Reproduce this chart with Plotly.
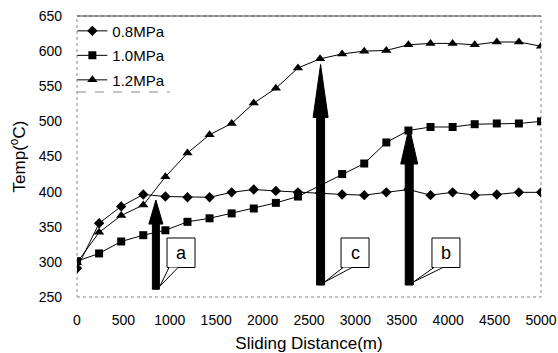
import plotly.graph_objects as go

# ---- data ----
distance = [i * 5000 / 21 for i in range(22)]
p08 = [291, 355, 379, 396, 393, 392, 392, 399, 403, 401, 399, 398, 396, 395, 399, 403, 395, 399, 395, 396, 399, 399]
p10 = [301, 312, 329, 338, 345, 357, 362, 369, 376, 384, 393, 409, 425, 440, 470, 487, 492, 492, 496, 497, 497, 500]
p12 = [299, 342, 366, 381, 421, 455, 481, 497, 526, 547, 576, 589, 596, 600, 601, 609, 611, 611, 609, 613, 613, 607]
series_names = ["0.8MPa", "1.0MPa", "1.2MPa"]
x_ticks = [0, 500, 1000, 1500, 2000, 2500, 3000, 3500, 4000, 4500, 5000]
y_ticks = [250, 300, 350, 400, 450, 500, 550, 600, 650]

# annotation arrows: label, x, tail y, tip y
arrow_labels = ["a", "c", "b"]
arrow_x = [850, 2625, 3580]
arrow_tail = [261, 267, 267]
arrow_tip = [388, 581, 492]
label_box_x0 = [970, 2845, 3825]

FONT = "Liberation Sans, Arial, sans-serif"

fig = go.Figure()
symbols = ["diamond", "square", "triangle-up"]
sizes = [8, 8, 9]
for name, ys, sym, sz in zip(series_names, [p08, p10, p12], symbols, sizes):
    fig.add_trace(go.Scatter(
        x=distance, y=ys, name=name, mode="lines+markers", legendgroup=name,
        line=dict(color="black", width=1),
        marker=dict(symbol=sym, size=sz, color="black"),
    ))

shapes = []
# white patch behind legend (covers frame in legend area)
shapes.append(dict(type="rect", xref="paper", yref="paper", x0=0, x1=0.2, y0=0.7295, y1=1,
                   fillcolor="white", line=dict(width=0), layer="below"))
# plot frame
shapes.append(dict(type="rect", xref="paper", yref="paper", x0=0, y0=0, x1=1, y1=1,
                   line=dict(color="#888", width=1, dash="dot"), layer="below"))
shapes.append(dict(type="line", xref="paper", yref="paper", x0=0, y0=1, x1=1, y1=1,
                   line=dict(color="#444", width=1)))

# px -> data unit conversion for drawing sizes
xu = 5000 / 464.0
yu = 400 / 281.0
shaft_w = [7, 8, 8]
head_w = [14, 15, 17]
head_len = [24, 53, 37]
for i, lab in enumerate(arrow_labels):
    cx = arrow_x[i]
    sw = shaft_w[i] * xu / 2
    hw = head_w[i] * xu / 2
    hl = head_len[i] * yu
    base = arrow_tip[i] - hl
    shapes.append(dict(type="path", xref="x", yref="y",
                       path=f"M {cx - sw} {arrow_tail[i]} L {cx + sw} {arrow_tail[i]} L {cx + sw} {base} "
                            f"L {cx + hw} {base} L {cx} {arrow_tip[i]} L {cx - hw} {base} L {cx - sw} {base} Z",
                       fillcolor="black", line=dict(color="black", width=1)))
    # callout box
    bx0 = label_box_x0[i]
    bx1 = bx0 + 28 * xu
    by0, by1 = 292, 334
    shapes.append(dict(type="rect", xref="x", yref="y", x0=bx0, x1=bx1, y0=by0, y1=by1,
                       line=dict(color="black", width=1), fillcolor="white"))
    # callout pointer
    px0 = bx0 + 2 * xu
    px1 = bx0 + 11 * xu
    tipx = cx + 4 * xu
    tipy = arrow_tail[i] + 3 * yu
    shapes.append(dict(type="path", xref="x", yref="y",
                       path=f"M {px0} {by0} L {tipx} {tipy} L {px1} {by0}",
                       line=dict(color="black", width=1), fillcolor="white"))
    fig.add_annotation(x=(bx0 + bx1) / 2, y=(by0 + by1) / 2, text=lab, showarrow=False,
                       font=dict(size=18, color="black", family=FONT), xanchor="center", yanchor="middle")

# legend bottom dashed line
shapes.append(dict(type="line", xref="paper", yref="paper", x0=0, x1=0.2, y0=0.7295, y1=0.7295,
                   line=dict(color="#888", width=1, dash="dash")))

fig.update_layout(
    width=558, height=353,
    margin=dict(l=77, r=17, t=16, b=56, autoexpand=False),
    paper_bgcolor="white", plot_bgcolor="white",
    font=dict(family=FONT, color="black"),
    showlegend=True,
    legend=dict(x=-0.01, y=1.005, xanchor="left", yanchor="top", bgcolor="rgba(255,255,255,0)",
                font=dict(size=15, family=FONT), borderwidth=0,
                itemwidth=30, tracegroupgap=2),
    shapes=shapes,
    xaxis=dict(range=[0, 5000], tickvals=x_ticks, ticktext=[str(v) for v in x_ticks],
               showgrid=False, zeroline=False, showline=False, ticks="",
               tickfont=dict(size=14, family=FONT), ticklabelstandoff=13,
               title=dict(text="Sliding Distance(m)", font=dict(size=17, family=FONT), standoff=10)),
    yaxis=dict(range=[250, 650], tickvals=y_ticks, ticktext=[str(v) for v in y_ticks],
               showgrid=False, zeroline=False, showline=False, ticks="",
               tickfont=dict(size=14, family=FONT), ticklabelstandoff=14,
               title=dict(text="Temp(<sup>o</sup>C)", font=dict(size=17, family=FONT), standoff=8)),
)

fig.write_html("out.html")
